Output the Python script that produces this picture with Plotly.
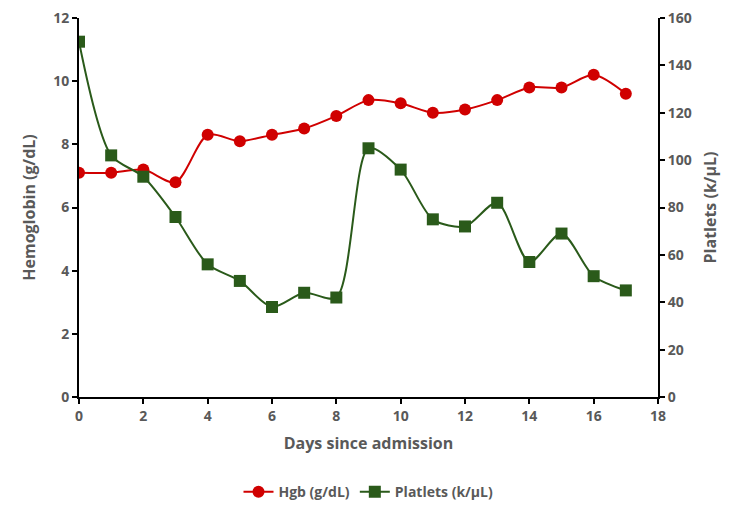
import plotly.graph_objects as go

days = list(range(18))
hgb = [7.1, 7.1, 7.2, 6.8, 8.3, 8.1, 8.3, 8.5, 8.9, 9.4, 9.3, 9.0, 9.1, 9.4, 9.8, 9.8, 10.2, 9.6]
platelets = [150, 102, 93, 76, 56, 49, 38, 44, 42, 105, 96, 75, 72, 82, 57, 69, 51, 45]

RED = "#D00000"
GREEN = "#2A5A1A"
GRAY = "#595959"
FONT = "Open Sans"

fig = go.Figure()
fig.add_trace(go.Scatter(
    x=days, y=hgb, name="Hgb (g/dL)", mode="lines+markers",
    line=dict(color=RED, width=2, shape="spline", smoothing=0.8),
    marker=dict(symbol="circle", size=12, color=RED),
))
fig.add_trace(go.Scatter(
    x=days, y=platelets, name="Platlets (k/μL)", mode="lines+markers", yaxis="y2",
    line=dict(color=GREEN, width=2, shape="spline", smoothing=0.8),
    marker=dict(symbol="square", size=12, color=GREEN),
))

tickfont = dict(family=FONT, size=14, color=GRAY, weight="bold")
titlefont = dict(family=FONT, size=16, color=GRAY, weight="bold")

fig.update_layout(
    width=750, height=509,
    margin=dict(l=79, r=92, t=18, b=112, autoexpand=False),
    paper_bgcolor="white", plot_bgcolor="white",
    showlegend=True,
    legend=dict(orientation="h", x=0.5, xanchor="center", yref="container", y=0.033, yanchor="middle",
                font=dict(family=FONT, size=14, color=GRAY, weight="bold")),
    xaxis=dict(range=[0, 18], tickvals=list(range(0, 19, 2)), showgrid=False, zeroline=False,
               showline=True, linecolor="black", linewidth=2, ticks="outside", tickcolor="black",
               ticklen=5, tickwidth=1.5, tickfont=tickfont, automargin=False,
               title=dict(text="Days since admission", font=titlefont, standoff=14)),
    yaxis=dict(range=[0, 12], tickvals=list(range(0, 13, 2)), showgrid=False, zeroline=False,
               showline=True, linecolor="black", linewidth=2, ticks="outside", tickcolor="black",
               ticklen=5, tickwidth=1.5, tickfont=tickfont, automargin=False,
               title=dict(text="Hemoglobin (g/dL)", font=titlefont, standoff=14)),
    yaxis2=dict(range=[0, 160], tickvals=list(range(0, 161, 20)), overlaying="y", side="right",
                showgrid=False, zeroline=False, automargin=False,
                showline=True, linecolor="black", linewidth=2, ticks="outside", tickcolor="black",
                ticklen=5, tickwidth=1.5, tickfont=tickfont,
                title=dict(text="Platlets (k/μL)", font=titlefont, standoff=14)),
)

fig.write_html("out.html")
